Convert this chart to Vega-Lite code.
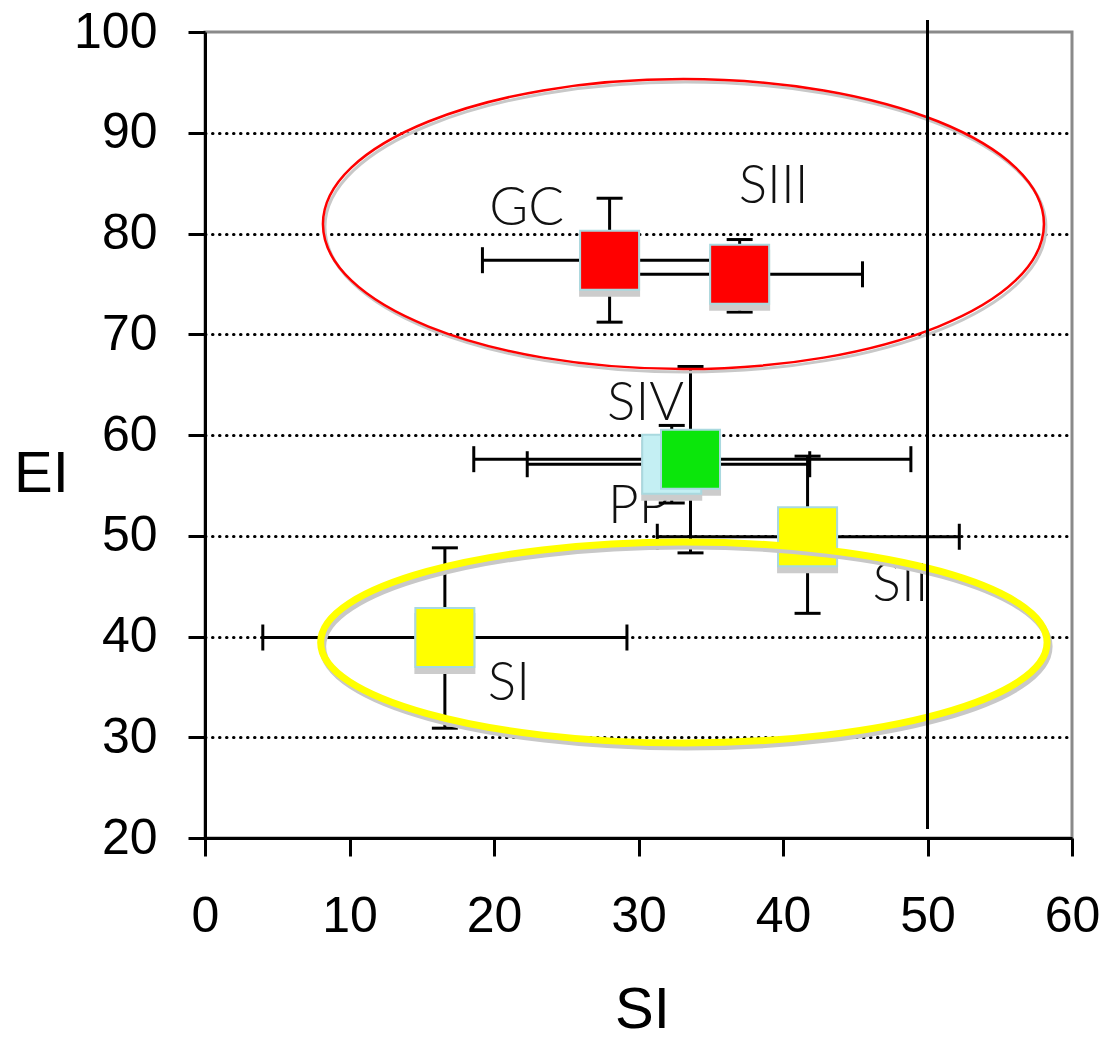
{
  "$schema": "https://vega.github.io/schema/vega-lite/v6.json",
  "width": 867,
  "height": 806,
  "autosize": "none",
  "padding": {"left": 205, "top": 32, "right": 46, "bottom": 201},
  "background": "white",
  "config": {"view": {"stroke": "#8a8a8a", "strokeWidth": 3}, "font": "Liberation Sans"},
  "datasets": {
    "groups": [
      {"name": "SI", "x": 16.6, "y": 39.9, "xlo": 4.0, "xhi": 29.2, "ylo": 30.9, "yhi": 48.8},
      {"name": "SII", "x": 41.7, "y": 49.9, "xlo": 31.3, "xhi": 52.2, "ylo": 42.3, "yhi": 57.9},
      {"name": "SIII", "x": 37.0, "y": 75.95, "xlo": 28.5, "xhi": 45.5, "ylo": 72.2, "yhi": 79.4},
      {"name": "GC", "x": 28.0, "y": 77.35, "xlo": 19.2, "xhi": 36.8, "ylo": 71.2, "yhi": 83.5},
      {"name": "PP", "x": 32.3, "y": 57.1, "xlo": 22.3, "xhi": 41.85, "ylo": 53.25, "yhi": 60.95},
      {"name": "SIV", "x": 33.6, "y": 57.6, "xlo": 18.6, "xhi": 48.85, "ylo": 48.3, "yhi": 66.8}
    ],
    "ellipses": [
      {"name": "upper", "cx": 33.11, "cy": 80.94},
      {"name": "lower", "cx": 33.14, "cy": 39.4}
    ],
    "refline": [{"x": 50, "ylo": 20.9, "yhi": 101.2}]
  },
  "encoding": {
    "x": {"type": "quantitative", "scale": {"domain": [0, 60], "nice": false, "zero": false},
      "axis": {"title": "SI", "values": [0, 10, 20, 30, 40, 50, 60], "grid": false,
        "domainColor": "black", "domainWidth": 3, "tickColor": "black", "tickWidth": 3, "tickSize": 18,
        "labelFontSize": 50, "labelFont": "Liberation Sans", "labelColor": "black", "labelPadding": 35,
        "labelFlush": false, "labelOverlap": false,
        "titleFontSize": 58, "titleFontWeight": "normal", "titleFont": "Liberation Sans", "titleColor": "black",
        "titleX": 437, "titleY": 172, "titleAlign": "center", "titleBaseline": "middle"}},
    "y": {"type": "quantitative", "scale": {"domain": [20, 100], "nice": false, "zero": false},
      "axis": {"title": "EI", "values": [20, 30, 40, 50, 60, 70, 80, 90, 100], "grid": true,
        "gridColor": "black", "gridDash": [0.5, 6.5], "gridWidth": 3, "gridCap": "round",
        "gridOpacity": {"condition": {"test": "datum.value == 20 || datum.value == 100", "value": 0}, "value": 1},
        "domainColor": "black", "domainWidth": 3, "tickColor": "black", "tickWidth": 3, "tickSize": 17,
        "labelFontSize": 50, "labelFont": "Liberation Sans", "labelColor": "black", "labelPadding": 31,
        "labelFlush": false, "labelOverlap": false,
        "titleFontSize": 58, "titleFontWeight": "normal", "titleFont": "Liberation Sans", "titleColor": "black",
        "titleAngle": 0, "titleX": -164, "titleY": 442, "titleAlign": "center", "titleBaseline": "middle"}}
  },
  "layer": [
    {
      "data": {"name": "groups"},
      "transform": [{"filter": "datum.name == 'GC'"}],
      "mark": {"type": "text", "dx": -83, "dy": -51, "fontSize": 53, "font": "Lato", "fontWeight": 300, "color": "#111111", "align": "center", "baseline": "middle"},
      "encoding": {"x": {"field": "x"}, "y": {"field": "y"}, "text": {"field": "name"}}
    },
    {
      "data": {"name": "groups"},
      "transform": [{"filter": "datum.name == 'SIII'"}],
      "mark": {"type": "text", "dx": 34, "dy": -87, "fontSize": 53, "font": "Lato", "fontWeight": 300, "color": "#111111", "align": "center", "baseline": "middle"},
      "encoding": {"x": {"field": "x"}, "y": {"field": "y"}, "text": {"field": "name"}}
    },
    {
      "data": {"name": "groups"},
      "transform": [{"filter": "datum.name == 'SIV'"}],
      "mark": {"type": "text", "dx": -45, "dy": -55, "fontSize": 53, "font": "Lato", "fontWeight": 300, "color": "#111111", "align": "center", "baseline": "middle"},
      "encoding": {"x": {"field": "x"}, "y": {"field": "y"}, "text": {"field": "name"}}
    },
    {
      "data": {"name": "groups"},
      "transform": [{"filter": "datum.name == 'PP'"}],
      "mark": {"type": "text", "dx": -33, "dy": 43, "fontSize": 53, "font": "Lato", "fontWeight": 300, "color": "#111111", "align": "center", "baseline": "middle"},
      "encoding": {"x": {"field": "x"}, "y": {"field": "y"}, "text": {"field": "name"}}
    },
    {
      "data": {"name": "groups"},
      "transform": [{"filter": "datum.name == 'SII'"}],
      "mark": {"type": "text", "dx": 93, "dy": 48, "fontSize": 53, "font": "Lato", "fontWeight": 300, "color": "#111111", "align": "center", "baseline": "middle"},
      "encoding": {"x": {"field": "x"}, "y": {"field": "y"}, "text": {"field": "name"}}
    },
    {
      "data": {"name": "groups"},
      "transform": [{"filter": "datum.name == 'SI'"}],
      "mark": {"type": "text", "dx": 64, "dy": 46, "fontSize": 53, "font": "Lato", "fontWeight": 300, "color": "#111111", "align": "center", "baseline": "middle"},
      "encoding": {"x": {"field": "x"}, "y": {"field": "y"}, "text": {"field": "name"}}
    },
    {
      "data": {"name": "groups"},
      "mark": {"type": "rule", "strokeWidth": 3, "color": "black"},
      "encoding": {"x": {"field": "xlo"}, "x2": {"field": "xhi"}, "y": {"field": "y"}}
    },
    {
      "data": {"name": "groups"},
      "mark": {"type": "rule", "strokeWidth": 3, "color": "black"},
      "encoding": {"x": {"field": "x"}, "y": {"field": "ylo"}, "y2": {"field": "yhi"}}
    },
    {
      "data": {"name": "groups"},
      "transform": [{"fold": ["xlo", "xhi"], "as": ["end", "xv"]}],
      "mark": {"type": "tick", "orient": "vertical", "size": 26, "thickness": 3, "color": "black", "opacity": 1},
      "encoding": {"x": {"field": "xv"}, "y": {"field": "y"}}
    },
    {
      "data": {"name": "groups"},
      "transform": [{"fold": ["ylo", "yhi"], "as": ["end", "yv"]}],
      "mark": {"type": "tick", "orient": "horizontal", "size": 26, "thickness": 3, "color": "black", "opacity": 1},
      "encoding": {"x": {"field": "x"}, "y": {"field": "yv"}}
    },
    {
      "data": {"name": "groups"},
      "mark": {"type": "point", "shape": "square", "filled": true, "size": 3721, "color": "#cccccc", "opacity": 1, "xOffset": 0, "yOffset": 6},
      "encoding": {"x": {"field": "x"}, "y": {"field": "y"}}
    },
    {
      "data": {"name": "groups"},
      "mark": {"type": "point", "shape": "square", "filled": true, "size": 3481, "opacity": 1, "stroke": "#a9d9df", "strokeWidth": 2},
      "encoding": {
        "x": {"field": "x"}, "y": {"field": "y"},
        "color": {"field": "name", "type": "nominal", "legend": null,
          "scale": {"domain": ["SI", "SII", "SIII", "GC", "PP", "SIV"], "range": ["#ffff00", "#ffff00", "#ff0000", "#ff0000", "#c4eff3", "#0be60b"]}}
      }
    },
    {
      "data": {"name": "ellipses"},
      "transform": [{"filter": "datum.name == 'upper'"}],
      "mark": {"type": "point", "filled": false, "color": "#c8c8c8", "strokeWidth": 3, "opacity": 1, "size": 519841, "xOffset": 2, "yOffset": 3,
        "shape": "M-1,0C-1,-0.2221,-0.5523,-0.4022,0,-0.4022C0.5523,-0.4022,1,-0.2221,1,0C1,0.2221,0.5523,0.4022,0,0.4022C-0.5523,0.4022,-1,0.2221,-1,0Z"},
      "encoding": {"x": {"field": "cx"}, "y": {"field": "cy"}}
    },
    {
      "data": {"name": "ellipses"},
      "transform": [{"filter": "datum.name == 'upper'"}],
      "mark": {"type": "point", "filled": false, "color": "#ff0000", "strokeWidth": 2.5, "opacity": 1, "size": 519841,
        "shape": "M-1,0C-1,-0.2221,-0.5523,-0.4022,0,-0.4022C0.5523,-0.4022,1,-0.2221,1,0C1,0.2221,0.5523,0.4022,0,0.4022C-0.5523,0.4022,-1,0.2221,-1,0Z"},
      "encoding": {"x": {"field": "cx"}, "y": {"field": "cy"}}
    },
    {
      "data": {"name": "ellipses"},
      "transform": [{"filter": "datum.name == 'lower'"}],
      "mark": {"type": "point", "filled": false, "color": "#c8c8c8", "strokeWidth": 7, "opacity": 1, "size": 527657, "xOffset": 2, "yOffset": 4,
        "shape": "M-1,0C-1,-0.1528,-0.5523,-0.2767,0,-0.2767C0.5523,-0.2767,1,-0.1528,1,0C1,0.1528,0.5523,0.2767,0,0.2767C-0.5523,0.2767,-1,0.1528,-1,0Z"},
      "encoding": {"x": {"field": "cx"}, "y": {"field": "cy"}}
    },
    {
      "data": {"name": "ellipses"},
      "transform": [{"filter": "datum.name == 'lower'"}],
      "mark": {"type": "point", "filled": false, "color": "#ffff00", "strokeWidth": 7, "opacity": 1, "size": 527657,
        "shape": "M-1,0C-1,-0.1528,-0.5523,-0.2767,0,-0.2767C0.5523,-0.2767,1,-0.1528,1,0C1,0.1528,0.5523,0.2767,0,0.2767C-0.5523,0.2767,-1,0.1528,-1,0Z"},
      "encoding": {"x": {"field": "cx"}, "y": {"field": "cy"}}
    },
    {
      "data": {"name": "refline"},
      "mark": {"type": "rule", "strokeWidth": 3, "color": "black", "clip": false},
      "encoding": {"x": {"field": "x"}, "y": {"field": "ylo"}, "y2": {"field": "yhi"}}
    }
  ]
}
